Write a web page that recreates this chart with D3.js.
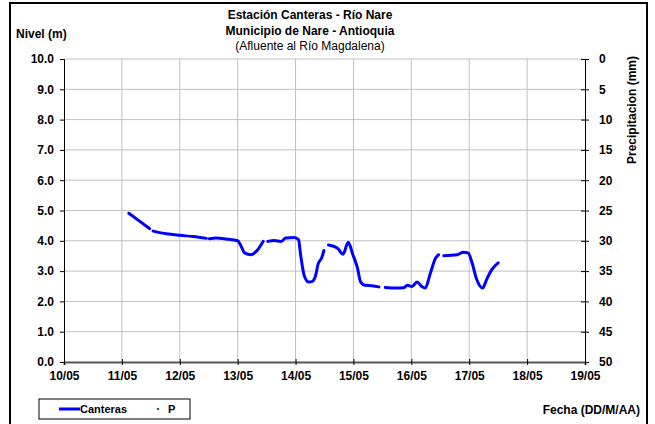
<!DOCTYPE html>
<html>
<head>
<meta charset="utf-8">
<script src="https://cdn.jsdelivr.net/npm/d3@7"></script>
<style>
  body { margin: 0; background: #fff; }
  svg text { font-family: "Liberation Sans", Arial, sans-serif; }
</style>
</head>
<body>
<div class="content-container"></div>
<script>
// dates are fractional days of May (10 = 10/05 00:00); null marks a gap in the record
const days = [
  11.12, 11.31, 11.48, null,
  11.54, 11.77, 12.00, 12.23, 12.46, null,
  12.51, 12.63, 12.80, 13.00, 13.06, 13.12, 13.23, 13.32, 13.44, null,
  13.52, 13.63, 13.75, 13.83, 13.98, 14.05, 14.09, 14.15, 14.23, 14.29, 14.35, 14.39, 14.45, 14.49, null,
  14.57, 14.72, 14.82, 14.91, 14.99, 15.07, 15.12, 15.20, 15.32, 15.44, null,
  15.55, 15.73, 15.87, 15.93, 16.01, 16.10, 16.18, 16.24, 16.33, 16.42, 16.47, null,
  16.56, 16.79, 16.90, 16.98, 17.05, 17.13, 17.23, 17.30, 17.39, 17.50
];
const levels = [
  4.91, 4.64, 4.40, null,
  4.32, 4.23, 4.18, 4.14, 4.08, null,
  4.07, 4.09, 4.06, 4.00, 3.82, 3.60, 3.54, 3.65, 3.98, null,
  3.98, 4.01, 3.98, 4.09, 4.11, 4.04, 3.50, 2.85, 2.64, 2.66, 2.88, 3.24, 3.43, 3.68, null,
  3.86, 3.76, 3.56, 3.95, 3.54, 3.10, 2.66, 2.53, 2.52, 2.48, null,
  2.46, 2.44, 2.45, 2.53, 2.49, 2.64, 2.49, 2.44, 2.94, 3.43, 3.54, null,
  3.51, 3.54, 3.62, 3.60, 3.27, 2.72, 2.44, 2.72, 3.05, 3.27
];
// no precipitation recorded in the period
const precipDays = [];
const precipValues = [];

const dayTicks = [10, 11, 12, 13, 14, 15, 16, 17, 18, 19];
const levelTicks = [0, 1, 2, 3, 4, 5, 6, 7, 8, 9, 10];
const precipTicks = [0, 5, 10, 15, 20, 25, 30, 35, 40, 45, 50];

const width = 655, height = 424;
const plotLeft = 64, plotRight = 585, plotTop = 59, plotBottom = 362;

const svg = d3.select(".content-container").append("svg")
  .attr("width", width).attr("height", height);

// outer frame
svg.append("rect")
  .attr("x", 10).attr("y", 3).attr("width", 637).attr("height", 430)
  .attr("fill", "#fff").attr("stroke", "#000").attr("stroke-width", 2);

const xScale = d3.scaleLinear().domain([10, 19]).range([plotLeft, plotRight]);
const yScale = d3.scaleLinear().domain([0, 10]).range([plotBottom, plotTop]);
const pScale = d3.scaleLinear().domain([0, 50]).range([plotTop, plotBottom]);

// GRID
svg.append("g").selectAll("line")
  .data(levelTicks.filter(d => d > 0))
  .enter().append("line")
  .attr("x1", plotLeft).attr("x2", plotRight)
  .attr("y1", d => yScale(d)).attr("y2", d => yScale(d))
  .attr("stroke", "#c0c0c0").attr("stroke-width", 1);

svg.append("g").selectAll("line")
  .data(dayTicks.filter(d => d > 10 && d < 19))
  .enter().append("line")
  .attr("x1", d => xScale(d)).attr("x2", d => xScale(d))
  .attr("y1", plotTop).attr("y2", plotBottom)
  .attr("stroke", "#c0c0c0").attr("stroke-width", 1);

// AXES
const tickFont = g => g.selectAll("text")
  .style("font-size", "12px").style("font-weight", "bold").attr("fill", "#000");

const yAxis = svg.append("g")
  .attr("transform", "translate(" + plotLeft + ",0)")
  .call(d3.axisLeft(yScale).tickValues(levelTicks).tickFormat(d3.format(".1f")).tickSize(4).tickPadding(6))
  .call(tickFont);
yAxis.select(".domain").attr("stroke", "#000");

const pAxis = svg.append("g")
  .attr("transform", "translate(" + plotRight + ",0)")
  .call(d3.axisRight(pScale).tickValues(precipTicks).tickSize(4).tickPadding(10))
  .call(tickFont);
pAxis.selectAll(".tick line").attr("x1", -4);
pAxis.select(".domain").attr("stroke", "#000");

const xAxis = svg.append("g")
  .attr("transform", "translate(0," + plotBottom + ")")
  .call(d3.axisBottom(xScale).tickValues(dayTicks)
    .tickFormat(d => d3.format("02d")(d) + "/05").tickSize(3).tickPadding(6))
  .call(tickFont);
xAxis.selectAll(".tick line").attr("y1", -3);
xAxis.select(".domain").attr("stroke", "#555").attr("stroke-width", 2);

// LINE
const rows = days.map((d, i) => ({ day: d, level: levels[i] }));
const line = d3.line()
  .defined(d => d.day !== null && d.level !== null)
  .x(d => xScale(d.day))
  .y(d => yScale(d.level))
  .curve(d3.curveMonotoneX);

svg.append("path")
  .datum(rows)
  .attr("d", line)
  .attr("fill", "none")
  .attr("stroke", "#0000ff")
  .attr("stroke-width", 3)
  .attr("stroke-linejoin", "round")
  .attr("stroke-linecap", "round");

// precipitation points (none in period)
svg.append("g").selectAll("circle")
  .data(precipDays.map((d, i) => ({ day: d, p: precipValues[i] })))
  .enter().append("circle")
  .attr("cx", d => xScale(d.day)).attr("cy", d => pScale(d.p))
  .attr("r", 1.5).attr("fill", "#008000");

// TITLES
const title = [
  { t: "Estación Canteras - Río Nare", y: 19, w: "bold" },
  { t: "Municipio de Nare - Antioquia", y: 35, w: "bold" },
  { t: "(Afluente al Río Magdalena)", y: 50, w: "normal" }
];
svg.selectAll(".title").data(title).enter().append("text")
  .attr("x", 310).attr("y", d => d.y)
  .attr("text-anchor", "middle")
  .style("font-size", "12px").style("font-weight", d => d.w)
  .text(d => d.t);

svg.append("text")
  .attr("x", 16).attr("y", 38)
  .style("font-size", "12px").style("font-weight", "bold")
  .text("Nivel (m)");

svg.append("text")
  .attr("transform", "translate(636,110) rotate(-90)")
  .attr("text-anchor", "middle")
  .style("font-size", "12px").style("font-weight", "bold")
  .text("Precipitacion (mm)");

svg.append("text")
  .attr("x", 640).attr("y", 414)
  .attr("text-anchor", "end")
  .style("font-size", "12px").style("font-weight", "bold")
  .text("Fecha (DD/M/AA)");

// LEGEND
const legend = svg.append("g");
legend.append("rect")
  .attr("x", 39).attr("y", 399).attr("width", 151).attr("height", 20)
  .attr("fill", "#fff").attr("stroke", "#000").attr("stroke-width", 1);
legend.append("line")
  .attr("x1", 59).attr("x2", 80).attr("y1", 409).attr("y2", 409)
  .attr("stroke", "#0000ff").attr("stroke-width", 3);
legend.append("text")
  .attr("x", 80).attr("y", 413)
  .style("font-size", "11px").style("font-weight", "bold")
  .text("Canteras");
legend.append("rect")
  .attr("x", 157).attr("y", 408).attr("width", 2).attr("height", 2)
  .attr("fill", "#008000");
legend.append("text")
  .attr("x", 168).attr("y", 413)
  .style("font-size", "11px").style("font-weight", "bold")
  .text("P");
</script>
</body>
</html>
